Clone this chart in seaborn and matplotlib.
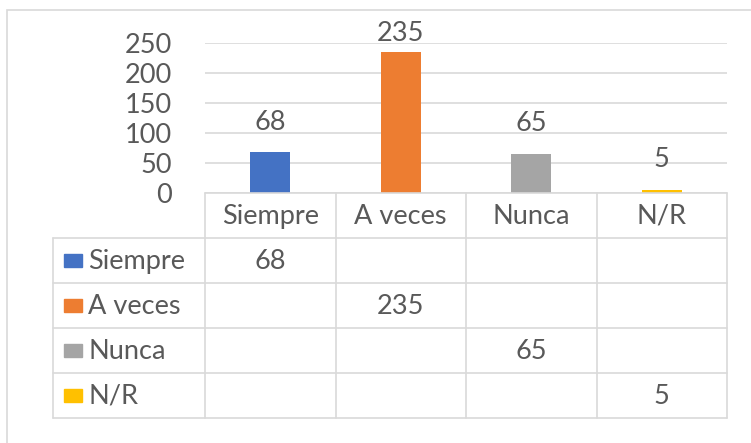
import matplotlib
matplotlib.use("Agg")
import matplotlib.pyplot as plt
import seaborn as sns
import pandas as pd
from matplotlib.patches import Rectangle

# -----------------------------
# Data
# -----------------------------
categories = ["Siempre", "A veces", "Nunca", "N/R"]
values = [68, 235, 65, 5]
colors = ["#4472C4", "#ED7D31", "#A5A5A5", "#FFC000"]
y_ticks = [0, 50, 100, 150, 200, 250]

df = pd.DataFrame({"categoria": categories, "valor": values})

sns.set_theme(style="white")
plt.rcParams["font.family"] = ["Lato", "DejaVu Sans"]

TXT = "#595959"
GRID = "#D9D9D9"
FS = 19.5

W, H = 751, 443
fig = plt.figure(figsize=(W / 100, H / 100), dpi=100)


def box(x0, y0, x1, y1):
    # pixel box (top-left origin) -> figure fraction rect
    return [x0 / W, 1 - y1 / H, (x1 - x0) / W, (y1 - y0) / H]


# outer chart frame
fig.patches.append(Rectangle((7 / W, -0.1), 1.1, 1 - 10 / H + 0.1, transform=fig.transFigure,
                             fill=False, edgecolor=GRID, lw=1.2))

# -----------------------------
# Bar chart
# -----------------------------
ax = fig.add_axes(box(205, 43, 727, 193))
ax.yaxis.grid(True, color=GRID, lw=1.2, zorder=0)
ax.set_axisbelow(True)
sns.barplot(data=df, x="categoria", y="valor", hue="categoria", palette=colors,
            order=categories, hue_order=categories, width=0.31, saturation=1,
            linewidth=0, legend=False, ax=ax, zorder=3)
ax.set_ylim(0, 250)
ax.set_xlim(-0.5, len(categories) - 0.5)
ax.set_yticks(y_ticks)
for s in ax.spines.values():
    s.set_visible(False)
ax.set_xticks([])
ax.set_xlabel("")
ax.set_ylabel("")
ax.tick_params(axis="y", length=0, pad=24, labelsize=FS, labelcolor=TXT)
for i, v in enumerate(values):
    ax.text(i, min(v + 50, 265), str(v), ha="center", va="center", fontsize=FS,
            color=TXT, clip_on=False)

# -----------------------------
# Data table
# -----------------------------
n = len(categories)
tab = fig.add_axes(box(205, 193, 727, 418))
tab.set_xlim(-0.5, n - 0.5)
tab.set_ylim(n + 1, 0)
tab.axis("off")
left = -0.5 - 152 / 130.5

# horizontal lines
tab.plot([-0.5, n - 0.5], [0, 0], color=GRID, lw=1.2, clip_on=False)
for r in range(1, n + 2):
    tab.plot([left, n - 0.5], [r, r], color=GRID, lw=1.2, clip_on=False)
# vertical lines
for c in range(n + 1):
    tab.plot([c - 0.5, c - 0.5], [0, n + 1], color=GRID, lw=1.2, clip_on=False)
tab.plot([left, left], [1, n + 1], color=GRID, lw=1.2, clip_on=False)

# header
for i, cat in enumerate(categories):
    tab.text(i, 0.52, cat, ha="center", va="center", fontsize=FS, color=TXT)

# rows
for r, (cat, v, col) in enumerate(zip(categories, values, colors)):
    y = r + 1.5
    tab.add_patch(Rectangle((left + 0.085, y - 0.14), 0.14, 0.28, color=col, clip_on=False))
    tab.text(left + 0.27, y + 0.02, cat, ha="left", va="center", fontsize=FS, color=TXT, clip_on=False)
    tab.text(r, y + 0.02, str(v), ha="center", va="center", fontsize=FS, color=TXT)

fig.savefig("out.png", dpi=100)
